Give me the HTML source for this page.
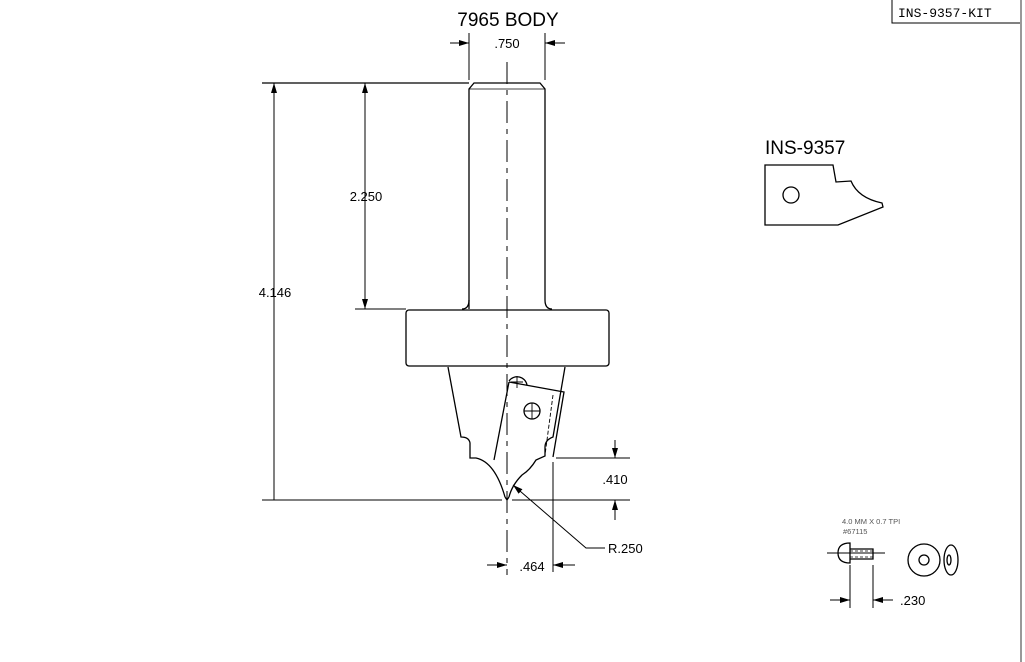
<!DOCTYPE html>
<html><head><style>
html,body{margin:0;padding:0;background:#fff;}
svg{display:block;font-family:"Liberation Sans",sans-serif;}
</style></head><body>
<svg width="1025" height="662" viewBox="0 0 1025 662" xmlns="http://www.w3.org/2000/svg">
<defs>
<marker id="a" viewBox="0 0 10 6" refX="10" refY="3" markerWidth="10" markerHeight="6" orient="auto" markerUnits="userSpaceOnUse"><path d="M0,0 L10,3 L0,6 z" fill="#000"/></marker>
</defs>
<g fill="none" stroke="#000" stroke-width="1.3">
<path d="M892,0 V23 H1021" stroke-width="1"/>
<line x1="1021" y1="0" x2="1021" y2="662" stroke="#999" stroke-width="2"/>
<path d="M469,309 Q469,304 469,300 V89 L474,83 H540 L545,89 V300 Q545,309 552,309"/>
<path d="M469,300 Q469,309 462,309"/>
<line x1="469" y1="89" x2="545" y2="89" stroke-width="0.8"/>
<rect x="406" y="310" width="203" height="56" rx="3"/>
<path d="M448,367 L461,437 Q469,437 470,443 V458 H476 Q495,462 505,497"/>
<path d="M565,367 L553,437 Q545,440 545,447 V456 L536,460 Q530,470 522,475 Q512,485 509,497"/>
<path d="M505,497 L507,500 L509,497"/>
<path d="M509,382 L564,392 L553,457 M509,382 L494,460" />
<path d="M553,395 L545,455" stroke-dasharray="4,2" stroke-width="0.9"/>
<path d="M509,381 A10,10 0 0 1 527,385" />
<path d="M511,382 h12 M517,376 v12" stroke-width="0.9"/>
<circle cx="532" cy="411" r="8"/>
<path d="M524,411 h16 M532,403 v16" stroke-width="0.9"/>
<line x1="507" y1="62" x2="507" y2="575" stroke-dasharray="22,6,5,6" stroke-width="1"/>
<line x1="262" y1="83" x2="469" y2="83"/>
<line x1="274" y1="500" x2="274" y2="83" marker-end="url(#a)" stroke-width="1"/>
<line x1="365" y1="92" x2="365" y2="309" stroke-width="1"/>
<line x1="365" y1="100" x2="365" y2="83" marker-end="url(#a)" stroke-width="1"/>
<line x1="365" y1="290" x2="365" y2="309" marker-end="url(#a)" stroke-width="1"/>
<line x1="355" y1="309" x2="406" y2="309" stroke-width="1"/>
<line x1="262" y1="500" x2="502" y2="500" stroke-width="1"/>
<line x1="512" y1="500" x2="630" y2="500" stroke-width="1"/>
<line x1="556" y1="458" x2="630" y2="458" stroke-width="1"/>
<line x1="615" y1="440" x2="615" y2="458" marker-end="url(#a)" stroke-width="1"/>
<line x1="615" y1="520" x2="615" y2="500" marker-end="url(#a)" stroke-width="1"/>
<line x1="553" y1="462" x2="553" y2="572" stroke-width="1"/>
<line x1="487" y1="565" x2="507" y2="565" marker-end="url(#a)" stroke-width="1"/>
<line x1="575" y1="565" x2="553" y2="565" marker-end="url(#a)" stroke-width="1"/>
<path d="M605,548 H586 L513,485" stroke-width="1" marker-end="url(#a)"/>
<line x1="469" y1="33" x2="469" y2="80" stroke-width="1"/>
<line x1="545" y1="33" x2="545" y2="80" stroke-width="1"/>
<line x1="450" y1="43" x2="469" y2="43" marker-end="url(#a)" stroke-width="1"/>
<line x1="565" y1="43" x2="545" y2="43" marker-end="url(#a)" stroke-width="1"/>
<path d="M765,165 H833 L836,182 L851,181 Q858,198 882,203 L883,207 L838,225 H765 Z"/>
<circle cx="791" cy="195" r="8"/>
<line x1="827" y1="553" x2="885" y2="553" stroke-width="0.9"/>
<path d="M850,543 Q838,543 838,553 Q838,563 850,563 Z"/>
<path d="M850,549 H873 V559 H850" />
<line x1="850" y1="551" x2="873" y2="551" stroke-dasharray="3,2" stroke-width="0.7"/>
<line x1="850" y1="557" x2="873" y2="557" stroke-dasharray="3,2" stroke-width="0.7"/>
<circle cx="924" cy="560" r="16"/>
<circle cx="924" cy="560" r="5"/>
<ellipse cx="951" cy="560" rx="7" ry="15"/>
<ellipse cx="949" cy="560" rx="2" ry="5"/>
<line x1="850" y1="565" x2="850" y2="608" stroke-width="1"/>
<line x1="873" y1="565" x2="873" y2="608" stroke-width="1"/>
<line x1="830" y1="600" x2="850" y2="600" marker-end="url(#a)" stroke-width="1"/>
<line x1="893" y1="600" x2="873" y2="600" marker-end="url(#a)" stroke-width="1"/>
</g>
<g fill="#000">
<text x="898" y="17" font-family="Liberation Mono,monospace" font-size="13">INS-9357-KIT</text>
<text x="508" y="26" font-size="19" text-anchor="middle">7965 BODY</text>
<text x="507" y="48" font-size="13" text-anchor="middle">.750</text>
<text x="366" y="201" font-size="13" text-anchor="middle">2.250</text>
<text x="275" y="297" font-size="13" text-anchor="middle">4.146</text>
<text x="615" y="484" font-size="13" text-anchor="middle">.410</text>
<text x="532" y="571" font-size="13" text-anchor="middle">.464</text>
<text x="608" y="553" font-size="13">R.250</text>
<text x="765" y="154" font-size="19">INS-9357</text>
<text x="842" y="524" font-size="7.5" fill="#555">4.0 MM X 0.7 TPI</text>
<text x="843" y="534" font-size="7.5" fill="#555">#67115</text>
<text x="900" y="605" font-size="13">.230</text>
</g>
</svg>
</body></html>
